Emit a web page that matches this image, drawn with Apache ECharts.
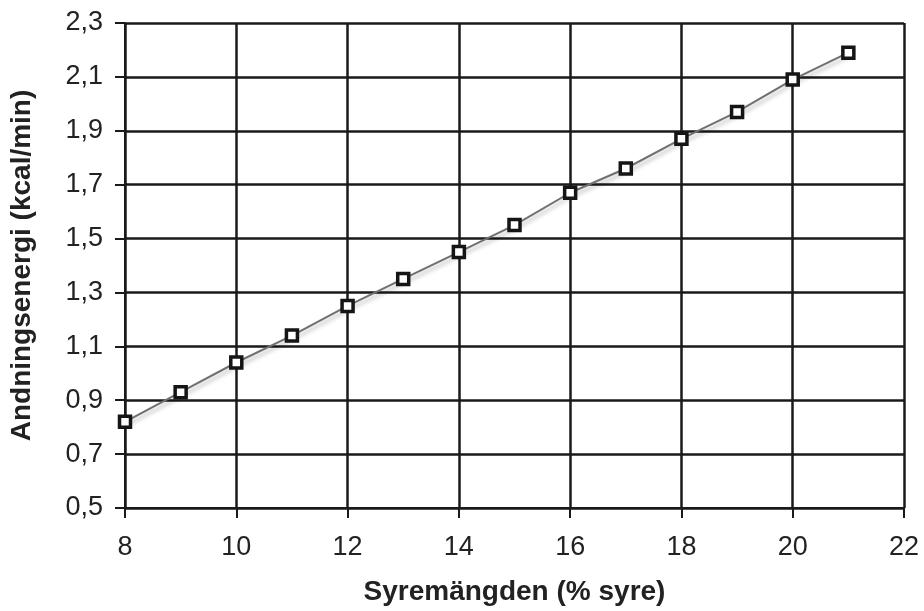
<!DOCTYPE html>
<html>
<head>
<meta charset="utf-8">
<script src="https://cdn.jsdelivr.net/npm/echarts@6/dist/echarts.min.js"></script>
<style>
html,body{margin:0;padding:0;background:#fff;}
#c{width:924px;height:611px;}
</style>
</head>
<body>
<div id="c"></div>
<script>
const xValues = [8, 9, 10, 11, 12, 13, 14, 15, 16, 17, 18, 19, 20, 21];
const yValues = [0.82, 0.93, 1.04, 1.14, 1.25, 1.35, 1.45, 1.55, 1.67, 1.76, 1.87, 1.97, 2.09, 2.19];
const xTitle = 'Syremängden (% syre)';
const yTitle = 'Andningsenergi (kcal/min)';

const chart = echarts.init(document.getElementById('c'));
const gridColor = '#1a1a1a';
chart.setOption({
  animation: false,
  backgroundColor: '#fff',
  grid: {left: 123, right: 20, top: 23, bottom: 103, containLabel: false},
  xAxis: {
    type: 'value', min: 8, max: 22, interval: 2,
    name: xTitle, nameLocation: 'middle', nameGap: 70,
    nameTextStyle: {fontFamily: 'Liberation Sans', fontWeight: 'bold', fontSize: 28, color: '#222'},
    axisLine: {show: true, onZero: false, lineStyle: {color: gridColor, width: 2}},
    axisTick: {show: true, length: 10, lineStyle: {color: gridColor, width: 2}},
    axisLabel: {margin: 26, fontFamily: 'Liberation Sans', fontSize: 27, color: '#222'},
    splitLine: {show: true, lineStyle: {color: gridColor, width: 2.5}}
  },
  yAxis: {
    type: 'value', min: 0.5, max: 2.3, interval: 0.2,
    name: yTitle, nameLocation: 'middle', nameGap: 89, nameRotate: 90,
    nameTextStyle: {fontFamily: 'Liberation Sans', fontWeight: 'bold', fontSize: 28, color: '#222'},
    axisLine: {show: true, onZero: false, lineStyle: {color: gridColor, width: 2}},
    axisTick: {show: true, length: 10, lineStyle: {color: gridColor, width: 2}},
    axisLabel: {margin: 22, fontFamily: 'Liberation Sans', fontSize: 27, color: '#222',
      formatter: v => v.toFixed(1).replace('.', ',')},
    splitLine: {show: true, lineStyle: {color: gridColor, width: 2.5}}
  },
  series: [{
    type: 'line',
    data: xValues.map((x, i) => [x, yValues[i]]),
    symbol: 'rect', symbolSize: 11,
    lineStyle: {color: '#707070', width: 2, shadowColor: 'rgba(0,0,0,0.3)', shadowBlur: 4, shadowOffsetX: 2, shadowOffsetY: 3},
    itemStyle: {color: '#fff', borderColor: '#151515', borderWidth: 3.5},
    z: 5
  }]
});
</script>
</body>
</html>
